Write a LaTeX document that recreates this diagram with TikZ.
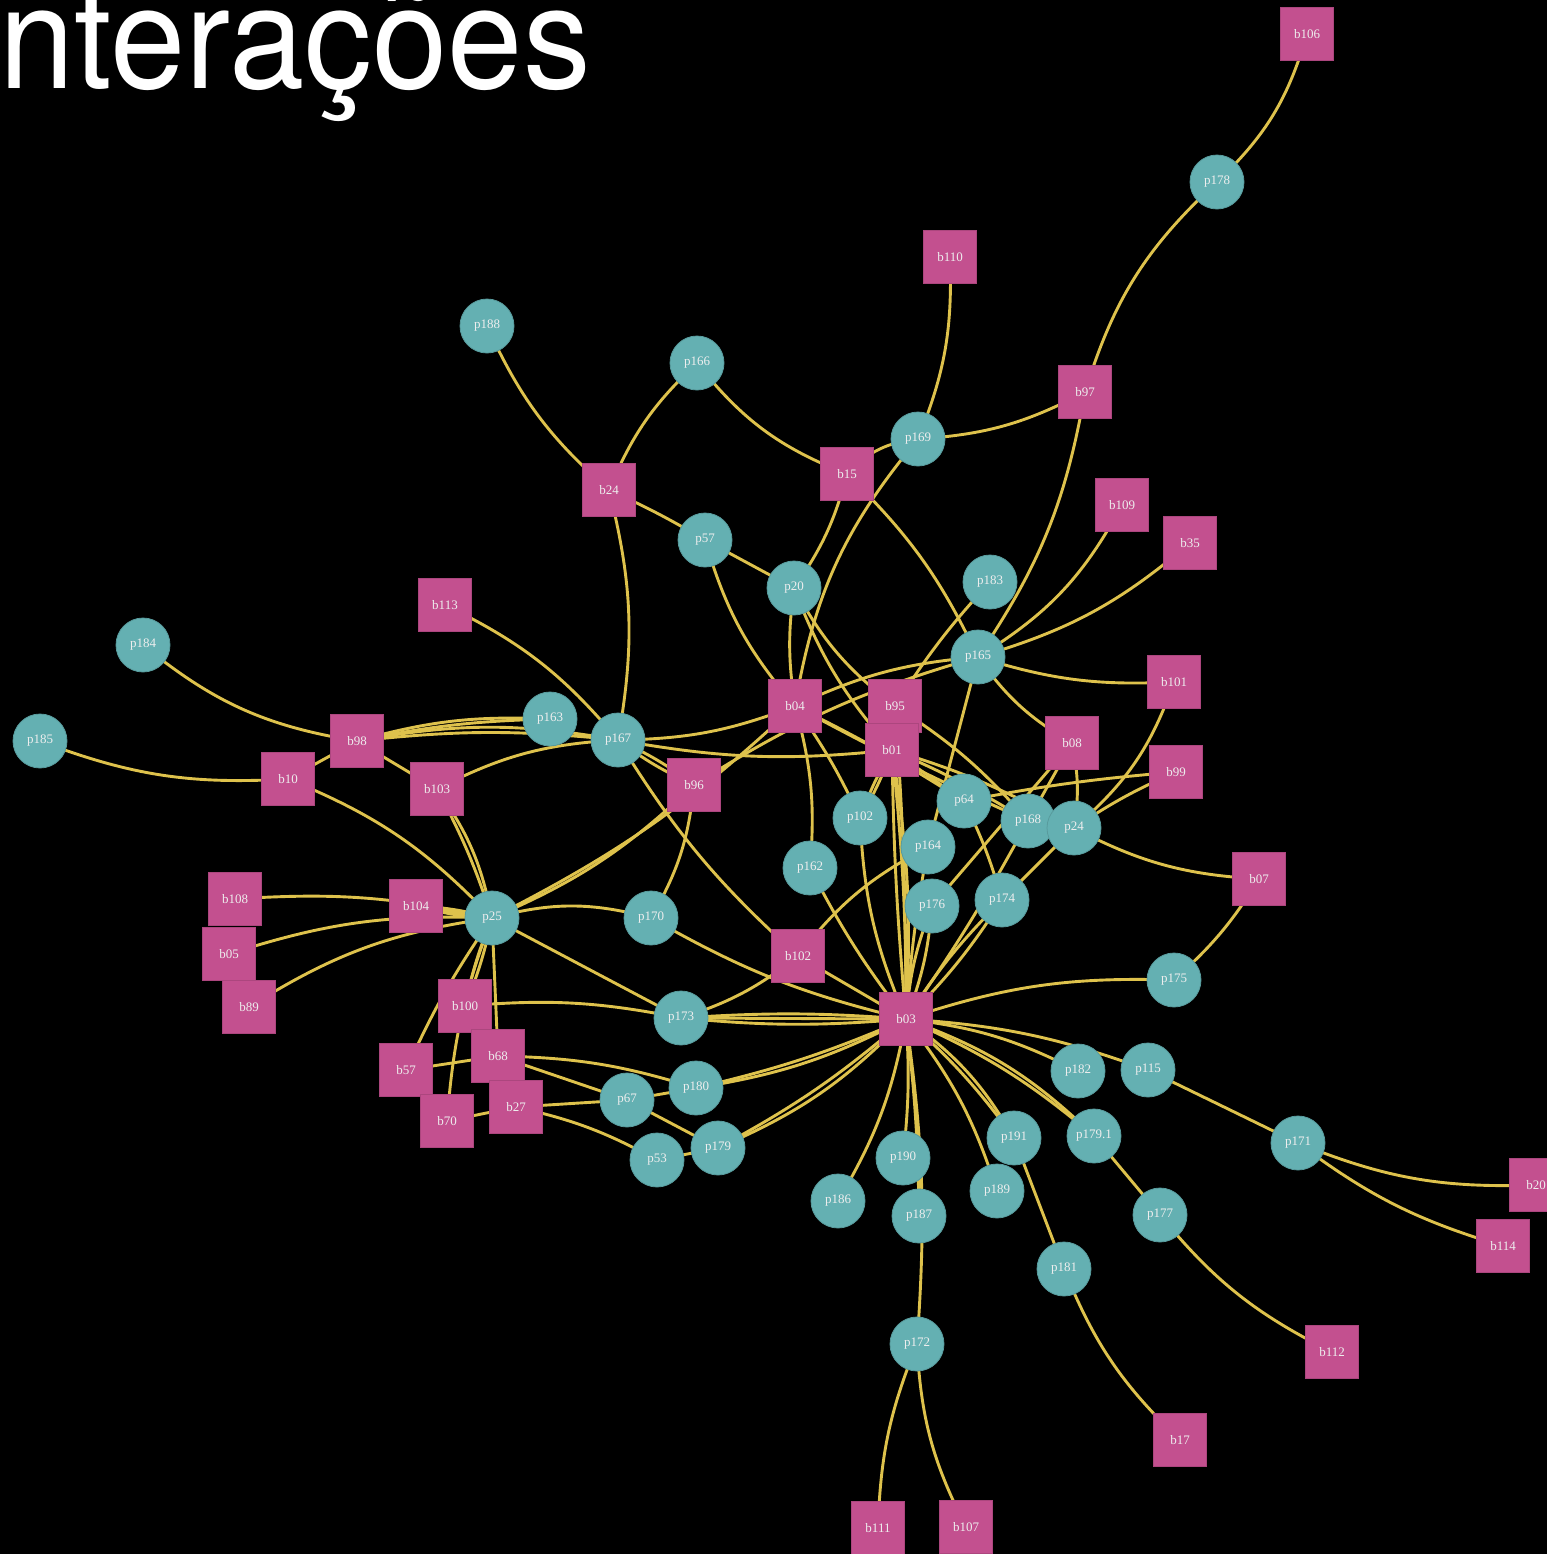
\documentclass[tikz,border=0pt]{standalone}
\usepackage{fontspec}
\newfontfamily\labelfont{Liberation Serif}
\newfontfamily\titlefont{TeX Gyre Heros}
\definecolor{pteal}{HTML}{64B0B2}
\definecolor{bpink}{HTML}{C3508F}
\definecolor{linkgold}{HTML}{DEC24C}
\definecolor{labeltext}{HTML}{EEEEEE}
\pgfdeclarelayer{background}
\pgfdeclarelayer{links}
\pgfsetlayers{background,links,main}
\tikzset{
  pnode/.style={circle, fill=pteal, draw=pteal!88!black, line width=0.4pt,
    minimum size=27pt, inner sep=0pt, text=labeltext,
    font=\labelfont\fontsize{6.5}{7}\selectfont},
  bnode/.style={rectangle, fill=bpink, draw=bpink!88!black, line width=0.4pt,
    minimum size=26.5pt, inner sep=0pt, text=labeltext,
    font=\labelfont\fontsize{6.5}{7}\selectfont},
  link/.style={draw=linkgold, line width=1.45pt, line cap=round},
}
\newcommand\conn[3]{\draw[link] (#1.center) to[#3] (#2.center);}
\begin{document}
\begin{tikzpicture}[x=0.5pt,y=-0.5pt]
\useasboundingbox (0,0) rectangle (1547,1554);
\begin{pgfonlayer}{background}
  \fill[black] (0,0) rectangle (1547,1554);
\end{pgfonlayer}

% title
\node[anchor=base west, inner sep=0pt, text=white] (title) at (-39,88)
  {\scalebox{0.94}[1]{\titlefont\fontsize{72}{72}\selectfont Interações}};

% b-nodes
\node[bnode] (b106) at (1307,34) {b106};
\node[bnode] (b110) at (950,257) {b110};
\node[bnode] (b97) at (1085,392) {b97};
\node[bnode] (b15) at (847,474) {b15};
\node[bnode] (b24) at (609,490) {b24};
\node[bnode] (b109) at (1122,505) {b109};
\node[bnode] (b35) at (1190,543) {b35};
\node[bnode] (b113) at (445,605) {b113};
\node[bnode] (b101) at (1174,682) {b101};
\node[bnode] (b04) at (795,706) {b04};
\node[bnode] (b95) at (895,706) {b95};
\node[bnode] (b01) at (892,750) {b01};
\node[bnode] (b08) at (1072,743) {b08};
\node[bnode] (b98) at (357,741) {b98};
\node[bnode] (b99) at (1176,772) {b99};
\node[bnode] (b10) at (288,779) {b10};
\node[bnode] (b103) at (437,789) {b103};
\node[bnode] (b96) at (694,785) {b96};
\node[bnode] (b07) at (1259,879) {b07};
\node[bnode] (b108) at (235,899) {b108};
\node[bnode] (b104) at (416,906) {b104};
\node[bnode] (b05) at (229,954) {b05};
\node[bnode] (b102) at (798,956) {b102};
\node[bnode] (b89) at (249,1007) {b89};
\node[bnode] (b100) at (465,1006) {b100};
\node[bnode] (b03) at (906,1019) {b03};
\node[bnode] (b68) at (498,1056) {b68};
\node[bnode] (b27) at (516,1107) {b27};
\node[bnode] (b57) at (406,1070) {b57};
\node[bnode] (b70) at (447,1121) {b70};
\node[bnode] (b20) at (1536,1185) {b20};
\node[bnode] (b114) at (1503,1246) {b114};
\node[bnode] (b112) at (1332,1352) {b112};
\node[bnode] (b17) at (1180,1440) {b17};
\node[bnode] (b111) at (878,1528) {b111};
\node[bnode] (b107) at (966,1527) {b107};

% p-nodes
\node[pnode] (p178) at (1217,182) {p178};
\node[pnode] (p188) at (487,326) {p188};
\node[pnode] (p166) at (697,363) {p166};
\node[pnode] (p169) at (918,439) {p169};
\node[pnode] (p57) at (705,540) {p57};
\node[pnode] (p20) at (794,588) {p20};
\node[pnode] (p183) at (990,582) {p183};
\node[pnode] (p184) at (143,645) {p184};
\node[pnode] (p165) at (978,657) {p165};
\node[pnode] (p163) at (550,719) {p163};
\node[pnode] (p167) at (618,740) {p167};
\node[pnode] (p185) at (40,741) {p185};
\node[pnode] (p102) at (860,818) {p102};
\node[pnode] (p64) at (964,801) {p64};
\node[pnode] (p168) at (1028,821) {p168};
\node[pnode] (p24) at (1074,828) {p24};
\node[pnode] (p164) at (928,847) {p164};
\node[pnode] (p162) at (810,868) {p162};
\node[pnode] (p176) at (932,906) {p176};
\node[pnode] (p174) at (1002,900) {p174};
\node[pnode] (p25) at (492,918) {p25};
\node[pnode] (p170) at (651,918) {p170};
\node[pnode] (p175) at (1174,980) {p175};
\node[pnode] (p173) at (681,1018) {p173};
\node[pnode] (p182) at (1078,1071) {p182};
\node[pnode] (p115) at (1148,1070) {p115};
\node[pnode] (p180) at (696,1088) {p180};
\node[pnode] (p67) at (627,1100) {p67};
\node[pnode] (p191) at (1014,1138) {p191};
\node[pnode] (p1791) at (1094,1136) {p179.1};
\node[pnode] (p171) at (1298,1143) {p171};
\node[pnode] (p53) at (657,1160) {p53};
\node[pnode] (p179) at (718,1148) {p179};
\node[pnode] (p190) at (903,1158) {p190};
\node[pnode] (p186) at (838,1201) {p186};
\node[pnode] (p189) at (997,1191) {p189};
\node[pnode] (p187) at (919,1216) {p187};
\node[pnode] (p177) at (1160,1215) {p177};
\node[pnode] (p181) at (1064,1269) {p181};
\node[pnode] (p172) at (917,1344) {p172};

\begin{pgfonlayer}{links}
% upper part
\conn{b106}{p178}{bend left=15}
\conn{p178}{b97}{bend right=15}
\conn{b110}{p169}{bend left=12}
\conn{p169}{b97}{bend right=12}
\conn{b15}{p169}{bend left=20}
\conn{p169}{b04}{bend right=15}
\conn{p166}{b15}{bend right=15}
\conn{p166}{b24}{bend right=12}
\conn{p188}{b24}{bend right=12}
\conn{b24}{p57}{bend left=3}
\conn{b24}{p167}{bend left=12}
\conn{p57}{p20}{bend left=0}
\conn{p57}{b04}{bend right=12}
\conn{p20}{b04}{bend right=8}
\conn{b15}{p20}{bend left=10}
\conn{b15}{p165}{bend left=10}
\conn{p20}{b95}{bend right=12}
\conn{p20}{b01}{bend right=10}
\conn{p183}{b95}{bend right=5}
\conn{b04}{p165}{bend left=10}
\conn{b96}{p165}{bend left=8}
\conn{p165}{b97}{bend right=12}
\conn{p165}{b109}{bend right=15}
\conn{p165}{b35}{bend right=12}
\conn{p165}{b101}{bend right=10}
\conn{p165}{b08}{bend right=12}
\conn{p165}{p164}{bend left=0}
% right cluster
\conn{b101}{p24}{bend left=15}
\conn{b99}{p24}{bend right=5}
\conn{b99}{p64}{bend right=3}
\conn{b08}{p168}{bend left=0}
\conn{b08}{p24}{bend left=10}
\conn{b08}{p176}{bend left=0}
\conn{b95}{p168}{bend left=8}
\conn{b01}{p168}{bend left=4}
\conn{b01}{p64}{bend left=0}
\conn{b01}{p24}{bend left=6}
\conn{b04}{p64}{bend left=3}
\conn{b04}{p168}{bend right=2}
\conn{b04}{p102}{bend left=5}
\conn{b04}{p162}{bend left=10}
\conn{b01}{p102}{bend left=5}
\conn{b01}{p102}{bend right=5}
\conn{p102}{b03}{bend right=10}
\conn{p162}{b03}{bend right=5}
\conn{b01}{b03}{bend right=2}
\conn{b01}{b03}{bend left=3}
\conn{b01}{b03}{bend left=6}
\conn{b95}{b03}{bend left=2}
\conn{p164}{b03}{bend right=3}
\conn{p176}{b03}{bend right=8}
\conn{p176}{b03}{bend left=8}
\conn{p174}{b03}{bend right=6}
\conn{p174}{b03}{bend left=6}
\conn{p64}{p174}{bend left=5}
\conn{p24}{p174}{bend left=0}
\conn{b03}{p168}{bend right=3}
\conn{b102}{p164}{bend left=12}
\conn{b102}{b03}{bend left=0}
\conn{b07}{p175}{bend left=8}
\conn{p24}{b07}{bend right=12}
% left cluster
\conn{p167}{b102}{bend right=8}
\conn{p167}{b96}{bend left=6}
\conn{p167}{b96}{bend right=6}
\conn{p167}{b04}{bend right=10}
\conn{p167}{b01}{bend right=8}
\conn{b98}{p163}{bend left=5}
\conn{b98}{p163}{bend left=9}
\conn{b98}{p167}{bend left=6}
\conn{b98}{p167}{bend left=10}
\conn{b113}{p167}{bend left=12}
\conn{b103}{p167}{bend left=12}
\conn{b98}{p184}{bend left=15}
\conn{b10}{p185}{bend left=12}
\conn{b98}{b10}{bend left=0}
\conn{b98}{b103}{bend left=0}
\conn{b10}{p25}{bend left=12}
\conn{b103}{p25}{bend left=5}
\conn{b103}{p25}{bend left=12}
\conn{b104}{p25}{bend left=6}
\conn{b104}{p25}{bend left=0}
\conn{b104}{p25}{bend right=6}
\conn{b108}{p25}{bend left=8}
\conn{b05}{p25}{bend left=10}
\conn{b89}{p25}{bend left=12}
\conn{p25}{b57}{bend right=5}
\conn{p25}{b70}{bend right=8}
\conn{p25}{b100}{bend left=5}
\conn{p25}{b100}{bend right=5}
\conn{p25}{b68}{bend left=0}
\conn{b100}{p173}{bend left=8}
\conn{b57}{b68}{bend left=0}
\conn{b68}{p180}{bend left=8}
\conn{b68}{p67}{bend left=0}
\conn{b70}{b27}{bend left=0}
\conn{b27}{p67}{bend left=0}
\conn{b27}{p53}{bend left=8}
\conn{p67}{p180}{bend left=0}
\conn{p67}{p179}{bend left=0}
\conn{p53}{p179}{bend left=0}
\conn{p25}{p173}{bend left=0}
\conn{p25}{p170}{bend left=15}
\conn{p25}{b96}{bend right=10}
\conn{p25}{b04}{bend right=8}
\conn{p170}{b96}{bend right=12}
\conn{p170}{b03}{bend right=8}
\conn{b102}{p173}{bend left=10}
\conn{p173}{b03}{bend left=4}
\conn{p173}{b03}{bend left=0}
\conn{p173}{b03}{bend right=5}
\conn{p180}{b03}{bend right=5}
\conn{p180}{b03}{bend right=9}
\conn{p179}{b03}{bend right=6}
\conn{p179}{b03}{bend right=11}
% lower part
\conn{b03}{p175}{bend left=10}
\conn{b03}{p182}{bend left=10}
\conn{b03}{p115}{bend left=8}
\conn{p115}{p171}{bend left=0}
\conn{b03}{p1791}{bend left=8}
\conn{b03}{p1791}{bend left=12}
\conn{p1791}{p177}{bend left=0}
\conn{b03}{p191}{bend left=6}
\conn{b03}{p191}{bend left=12}
\conn{p191}{p181}{bend left=0}
\conn{b03}{p189}{bend left=10}
\conn{b03}{p190}{bend left=5}
\conn{b03}{p186}{bend left=10}
\conn{b03}{p187}{bend left=3}
\conn{b03}{p172}{bend left=6}
\conn{p181}{b17}{bend right=12}
\conn{p177}{b112}{bend right=12}
\conn{p171}{b20}{bend right=12}
\conn{p171}{b114}{bend right=10}
\conn{p172}{b111}{bend right=10}
\conn{p172}{b107}{bend right=12}
\end{pgfonlayer}
\end{tikzpicture}
\end{document}
